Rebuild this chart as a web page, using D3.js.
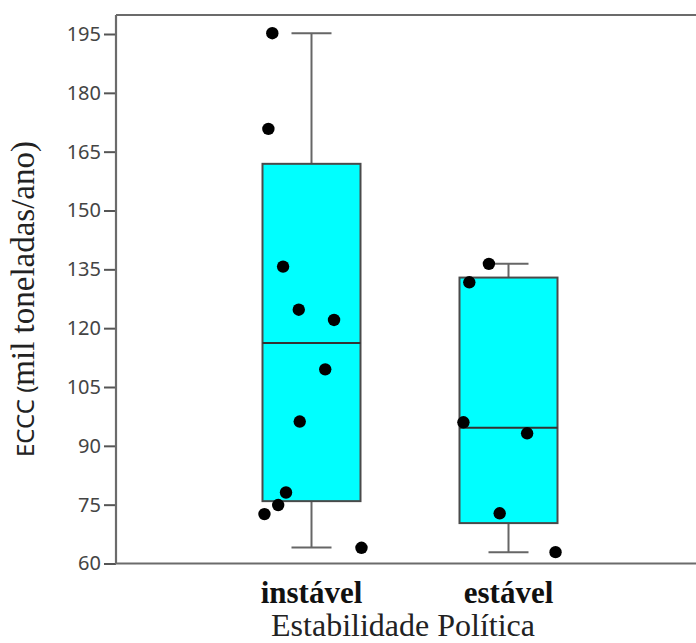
<!DOCTYPE html>
<html>
<head>
<meta charset="utf-8">
<script src="https://cdn.jsdelivr.net/npm/d3@7"></script>
<style>
  body { margin: 0; background: #fff; }
  svg { display: block; }
</style>
</head>
<body>
<div id="chart"></div>
<script>
// categories and box statistics
const groups = ["instável", "estável"];
const whiskerLow = [64.1, 62.9];
const q1 = [75.9, 70.3];
const median = [116.2, 94.6];
const q3 = [161.9, 132.9];
const whiskerHigh = [195.2, 136.4];

// individual points per group, with horizontal jitter (fraction of box width)
const instavelValues = [195.2, 170.8, 135.7, 124.7, 122.1, 109.5, 96.2, 78.1, 74.9, 72.6, 64.0];
const instavelJitter = [-0.40, -0.44, -0.29, -0.13, 0.23, 0.14, -0.12, -0.26, -0.34, -0.48, 0.51];
const estavelValues = [136.4, 131.7, 96.0, 93.2, 72.8, 62.9];
const estavelJitter = [-0.20, -0.40, -0.46, 0.19, -0.09, 0.48];

const yTicks = [60, 75, 90, 105, 120, 135, 150, 165, 180, 195];

//set sizes
const complete_width = 696,
    complete_height = 643,
    frame = { left: 116, top: 15, bottom: 563.5 },
    box_width = 98,
    cap_width = 40;

const svg = d3.select("#chart")
    .append("svg")
    .attr("width", complete_width)
    .attr("height", complete_height);

//scales
const y = d3.scaleLinear()
    .domain([60, 195])
    .range([frame.bottom, 34]);

const x = d3.scalePoint()
    .domain(groups)
    .range([311.5, 508.5]);

//frame: top line
svg.append("line")
    .attr("x1", frame.left).attr("x2", complete_width)
    .attr("y1", frame.top).attr("y2", frame.top)
    .attr("stroke", "#6b6b6b").attr("stroke-width", 2.2);

//y axis
const y_axis = d3.axisLeft(y).tickValues(yTicks).tickSize(12).tickPadding(3);
const yg = svg.append("g")
    .attr("transform", `translate(${frame.left},0)`)
    .call(y_axis);
yg.select(".domain").remove();
yg.append("line")
    .attr("x1", 0).attr("x2", 0)
    .attr("y1", frame.top).attr("y2", frame.bottom)
    .attr("stroke", "#6b6b6b").attr("stroke-width", 2.2);
yg.selectAll(".tick line").attr("stroke", "#555").attr("stroke-width", 2);
yg.selectAll(".tick text")
    .attr("fill", "#444")
    .style("font-family", "'Noto Sans', 'Open Sans', sans-serif")
    .style("font-size", "20px");

//bottom line
svg.append("line")
    .attr("x1", frame.left - 1).attr("x2", complete_width)
    .attr("y1", frame.bottom).attr("y2", frame.bottom)
    .attr("stroke", "#6b6b6b").attr("stroke-width", 2.2);

//boxes
const stats = groups.map((g, i) => ({
    group: g, lo: whiskerLow[i], q1: q1[i], med: median[i], q3: q3[i], hi: whiskerHigh[i]
}));

const boxes = svg.append("g").selectAll("g")
    .data(stats)
    .join("g")
    .attr("transform", d => `translate(${x(d.group)},0)`);

//whiskers
boxes.append("line")
    .attr("x1", 0).attr("x2", 0)
    .attr("y1", d => y(d.hi)).attr("y2", d => y(d.q3))
    .attr("stroke", "#666").attr("stroke-width", 2);
boxes.append("line")
    .attr("x1", 0).attr("x2", 0)
    .attr("y1", d => y(d.q1)).attr("y2", d => y(d.lo))
    .attr("stroke", "#666").attr("stroke-width", 2);
boxes.append("line")
    .attr("x1", -cap_width / 2).attr("x2", cap_width / 2)
    .attr("y1", d => y(d.hi)).attr("y2", d => y(d.hi))
    .attr("stroke", "#666").attr("stroke-width", 2);
boxes.append("line")
    .attr("x1", -cap_width / 2).attr("x2", cap_width / 2)
    .attr("y1", d => y(d.lo)).attr("y2", d => y(d.lo))
    .attr("stroke", "#666").attr("stroke-width", 2);

//box rect
boxes.append("rect")
    .attr("x", -box_width / 2)
    .attr("width", box_width)
    .attr("y", d => y(d.q3))
    .attr("height", d => y(d.q1) - y(d.q3))
    .attr("fill", "#00ffff")
    .attr("stroke", "#4a4a4a")
    .attr("stroke-width", 2);

//median
boxes.append("line")
    .attr("x1", -box_width / 2).attr("x2", box_width / 2)
    .attr("y1", d => y(d.med)).attr("y2", d => y(d.med))
    .attr("stroke", "#333").attr("stroke-width", 2);

//points
const points = [];
instavelValues.forEach((v, i) => points.push({ group: groups[0], value: v, jitter: instavelJitter[i] }));
estavelValues.forEach((v, i) => points.push({ group: groups[1], value: v, jitter: estavelJitter[i] }));

svg.append("g").selectAll("circle")
    .data(points)
    .join("circle")
    .attr("cx", d => x(d.group) + d.jitter * box_width)
    .attr("cy", d => y(d.value))
    .attr("r", 6.2)
    .attr("fill", "#000");

//category labels
svg.append("g").selectAll("text")
    .data(groups)
    .join("text")
    .attr("x", d => x(d))
    .attr("y", 603)
    .attr("text-anchor", "middle")
    .style("font-family", "'Liberation Serif', 'Times New Roman', serif")
    .style("font-weight", "bold")
    .style("font-size", "31px")
    .attr("fill", "#111")
    .text(d => d);

//x title
svg.append("text")
    .attr("x", 403)
    .attr("y", 636)
    .attr("text-anchor", "middle")
    .style("font-family", "'Liberation Serif', 'Times New Roman', serif")
    .style("font-size", "32px")
    .attr("fill", "#222")
    .text("Estabilidade Política");

//y title (mixed fonts as in the original)
const ytitle = svg.append("text")
    .attr("transform", "translate(34,299) rotate(-90)")
    .attr("text-anchor", "middle")
    .attr("fill", "#222");
ytitle.append("tspan")
    .style("font-family", "'Noto Sans', 'Open Sans', sans-serif")
    .style("font-size", "24px")
    .text("ECCC (");
ytitle.append("tspan")
    .style("font-family", "'Liberation Serif', 'Times New Roman', serif")
    .style("font-size", "33px")
    .text("mil toneladas/ano)");
</script>
</body>
</html>
